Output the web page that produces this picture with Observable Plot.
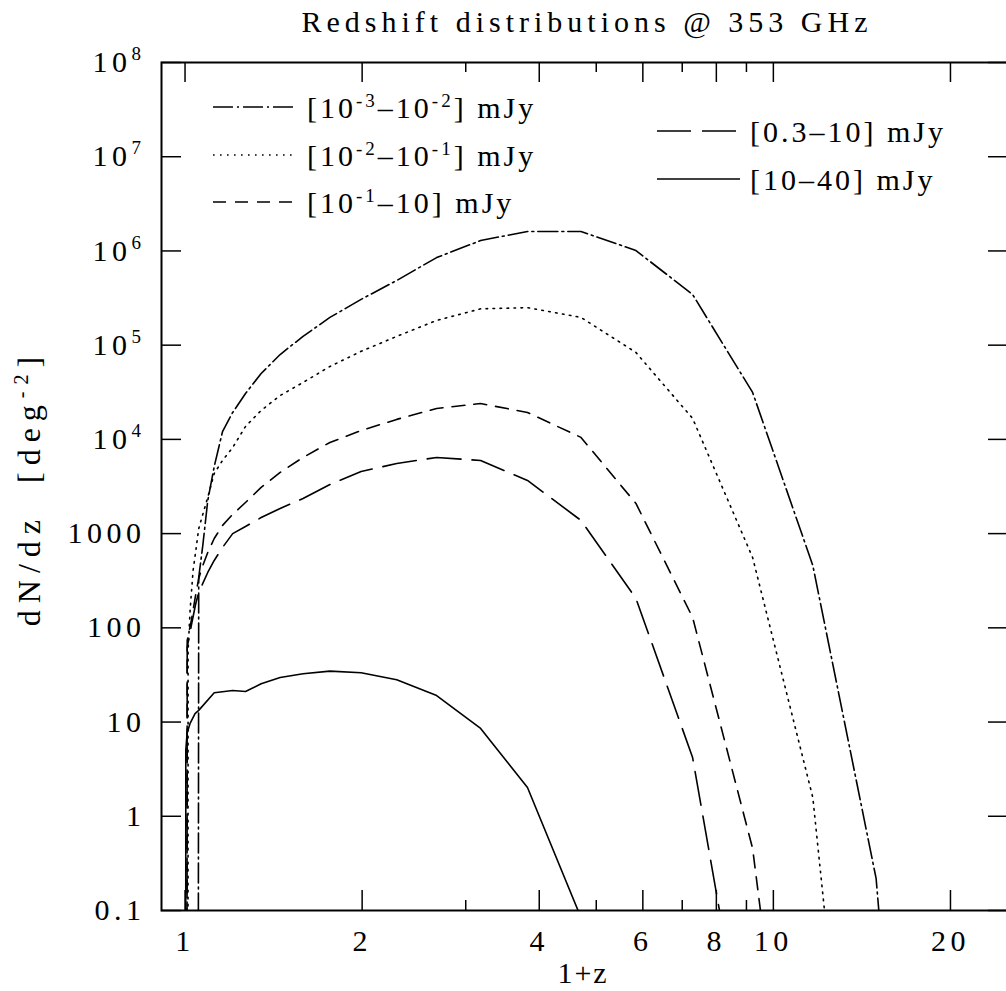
<!DOCTYPE html>
<html>
<head>
<meta charset="utf-8">
<script src="https://cdn.jsdelivr.net/npm/d3@7"></script>
<script src="https://cdn.jsdelivr.net/npm/@observablehq/plot@0.6"></script>
<style>
  html, body { margin: 0; padding: 0; background: #fff; overflow: hidden; }
  #wrap { position: relative; width: 1006px; height: 991px; overflow: hidden; background: #fff; }
  #wrap svg text { letter-spacing: 4.5px; }
</style>
</head>
<body>
<div id="wrap"></div>
<script>
// ---------------- data ----------------
const titleText = "Redshift distributions @ 353 GHz";
const xLabelText = "1+z";
const yLabelText = "dN/dz  [deg^{-2}]";

const seriesLabels = [
  "[10^{-3}–10^{-2}] mJy",
  "[10^{-2}–10^{-1}] mJy",
  "[10^{-1}–10] mJy",
  "[0.3–10] mJy",
  "[10–40] mJy"
];

// 1+z and dN/dz for each flux bin
const xDashDot = [1.042, 1.055, 1.072, 1.093, 1.121, 1.158, 1.205, 1.267, 1.347, 1.451, 1.587, 1.763, 1.992, 2.29, 2.677, 3.18, 3.82, 4.71, 5.84, 7.29, 9.22, 11.67, 14.95, 19.1];
const nDashDot = [1e-30, 342, 750, 2240, 5150, 1.21e4, 1.93e4, 3.07e4, 5.0e4, 7.96e4, 1.24e5, 1.97e5, 3.06e5, 4.86e5, 8.5e5, 1.29e6, 1.61e6, 1.61e6, 1.01e6, 3.45e5, 3.15e4, 459, 0.219, 3e-9];

const xDotted = [1.0085, 1.012, 1.02, 1.032, 1.042, 1.055, 1.072, 1.093, 1.121, 1.158, 1.205, 1.267, 1.347, 1.451, 1.587, 1.763, 1.992, 2.29, 2.677, 3.18, 3.82, 4.71, 5.84, 7.29, 9.22, 11.67, 14.95];
const nDotted = [1e-30, 57, 153, 406, 630, 1130, 1600, 2420, 4350, 5970, 8200, 1.37e4, 2.03e4, 2.92e4, 4.02e4, 5.94e4, 8.6e4, 1.24e5, 1.83e5, 2.43e5, 2.5e5, 1.97e5, 8.36e4, 1.67e4, 558, 1.58, 5e-7];

const xDashed = [1.002, 1.0085, 1.025, 1.042, 1.055, 1.072, 1.093, 1.121, 1.158, 1.205, 1.267, 1.347, 1.451, 1.587, 1.763, 1.992, 2.29, 2.677, 3.18, 3.82, 4.71, 5.84, 7.29, 9.22, 11.67];
const nDashed = [1e-30, 73, 120, 220, 334, 459, 630, 888, 1220, 1600, 2140, 3090, 4460, 6430, 9270, 1.24e4, 1.63e4, 2.13e4, 2.4e4, 1.93e4, 1.05e4, 2090, 129, 0.455, 4e-6];

const xLongDash = [1.002, 1.0085, 1.025, 1.042, 1.055, 1.072, 1.093, 1.121, 1.158, 1.205, 1.267, 1.347, 1.451, 1.587, 1.763, 1.992, 2.29, 2.677, 3.18, 3.82, 4.71, 5.84, 7.29, 9.22];
const nLongDash = [1e-30, 62, 106, 177, 237, 296, 387, 519, 713, 1000, 1190, 1480, 1850, 2360, 3320, 4560, 5550, 6430, 5970, 3670, 1380, 205, 4.2, 1e-3];

const xSolid = [1.001, 1.003, 1.008, 1.02, 1.04, 1.055, 1.121, 1.158, 1.205, 1.267, 1.347, 1.451, 1.587, 1.763, 1.992, 2.29, 2.677, 3.18, 3.82, 4.71];
const nSolid = [1e-30, 5, 7.6, 9.7, 12.3, 13.3, 20.5, 21, 21.6, 21.1, 25.5, 29.7, 32.5, 34.7, 33.4, 28.1, 19.1, 8.55, 2.02, 0.084];

const xMajorTicks = [1, 2, 4, 6, 8, 10, 20];
const xMinorTicks = [3, 5, 7, 9];
const yTicks = [0.1, 1, 10, 100, 1000, 1e4, 1e5, 1e6, 1e7, 1e8];
const xDomain = [0.912, 25.1];
const yDomain = [0.1, 1e8];

// ---------------- styles / layout ----------------
const dashes = ["20,4,2,4", "1.6,5.4", "13,9", "34,11", null];
const W = 1008, H = 991, ML = 161, MR = 0, MT = 62, MB = 81;
const plotW = W - ML - MR, plotH = H - MT - MB;

const xs = [xDashDot, xDotted, xDashed, xLongDash, xSolid];
const ns = [nDashDot, nDotted, nDashed, nLongDash, nSolid];
const tables = xs.map((xa, i) => xa.map((x, j) => ({x, y: ns[i][j], series: seriesLabels[i]})));

const font = "'Liberation Serif', 'Times New Roman', serif";

const chart = Plot.plot({
  width: W, height: H,
  marginLeft: ML, marginRight: MR, marginTop: MT, marginBottom: MB,
  style: {fontFamily: font, fontSize: "30px", background: "white", color: "black", maxWidth: "none", overflow: "visible"},
  x: {type: "log", domain: xDomain, ticks: xMajorTicks, tickFormat: d => String(d), tickSize: 0, tickPadding: 19, label: null},
  y: {type: "log", domain: yDomain, ticks: yTicks, tickFormat: d => d >= 1e4 ? "10^" + Math.round(Math.log10(d)) : String(d), tickSize: 0, tickPadding: 16, label: null},
  marks: [
    ...tables.map((t, i) => Plot.line(t, {x: "x", y: "y", stroke: "black", strokeWidth: 1.6, strokeDasharray: dashes[i] ?? undefined, clip: true})),
    Plot.ruleX(xMajorTicks, {x: d => d, insetTop: plotH - 20, stroke: "black", strokeWidth: 1.5}),
    Plot.ruleX(xMajorTicks, {x: d => d, insetBottom: plotH - 20, stroke: "black", strokeWidth: 1.5}),
    Plot.ruleX(xMinorTicks, {x: d => d, insetTop: plotH - 10, stroke: "black", strokeWidth: 1.5}),
    Plot.ruleX(xMinorTicks, {x: d => d, insetBottom: plotH - 10, stroke: "black", strokeWidth: 1.5}),
    Plot.ruleY(yTicks, {y: d => d, insetRight: plotW - 20, stroke: "black", strokeWidth: 1.5}),
    Plot.ruleY(yTicks, {y: d => d, insetLeft: plotW - 20, stroke: "black", strokeWidth: 1.5}),
    Plot.frame({stroke: "black", strokeWidth: 2})
  ]
});

document.getElementById("wrap").appendChild(chart);
const svg = d3.select(chart);

// superscript helper: "a^{b}c" -> tspans
function fillRich(textSel, str, supSize, supShift) {
  const parts = str.split(/\^\{([^}]*)\}/);
  let shifted = false;
  parts.forEach((p, k) => {
    if (p === "") return;
    const isSup = k % 2 === 1;
    const t = textSel.append("tspan").text(p);
    if (isSup) {
      t.attr("font-size", supSize).attr("dy", -supShift);
      shifted = true;
    } else if (shifted) {
      t.attr("dy", supShift);
      shifted = false;
    }
  });
}

// y tick labels 10^n -> superscripts
svg.selectAll("text").each(function () {
  const s = this.textContent;
  const m = /^10\^(\d+)$/.exec(s);
  if (m) {
    const t = d3.select(this);
    t.text(null);
    t.append("tspan").text("10");
    t.append("tspan").attr("font-size", 19).attr("dy", -12).text(m[1]);
  }
});

// title
svg.append("text")
  .attr("x", 587).attr("y", 32).attr("text-anchor", "middle")
  .style("font-size", "30px").style("letter-spacing", "5px")
  .attr("fill", "black").text(titleText);

// x label
svg.append("text")
  .attr("x", 583).attr("y", 983).attr("text-anchor", "middle")
  .style("font-size", "30px").style("letter-spacing", "2px")
  .attr("fill", "black").text(xLabelText);

// y label
const yl = svg.append("text")
  .attr("transform", "translate(40,488) rotate(-90)")
  .attr("text-anchor", "middle")
  .style("font-size", "32px").style("letter-spacing", "7px").style("white-space", "pre")
  .attr("fill", "black");
fillRich(yl, yLabelText, 20, 12);

// legend
const legendPos = [
  {x0: 213, x1: 297, tx: 307, y: 107},
  {x0: 213, x1: 297, tx: 307, y: 155},
  {x0: 213, x1: 297, tx: 307, y: 202},
  {x0: 657, x1: 740, tx: 750, y: 131},
  {x0: 657, x1: 740, tx: 750, y: 179}
];
const lg = svg.append("g").attr("aria-label", "legend");
seriesLabels.forEach((lab, i) => {
  const p = legendPos[i];
  const ln = lg.append("line").attr("x1", p.x0).attr("x2", p.x1).attr("y1", p.y).attr("y2", p.y)
    .attr("stroke", "black").attr("stroke-width", 1.6);
  if (dashes[i]) ln.attr("stroke-dasharray", dashes[i]);
  const t = lg.append("text").attr("x", p.tx).attr("y", p.y + 11).attr("text-anchor", "start")
    .style("font-size", "30px").style("letter-spacing", "3px").attr("fill", "black");
  fillRich(t, lab, 19, 11);
});
</script>
</body>
</html>
